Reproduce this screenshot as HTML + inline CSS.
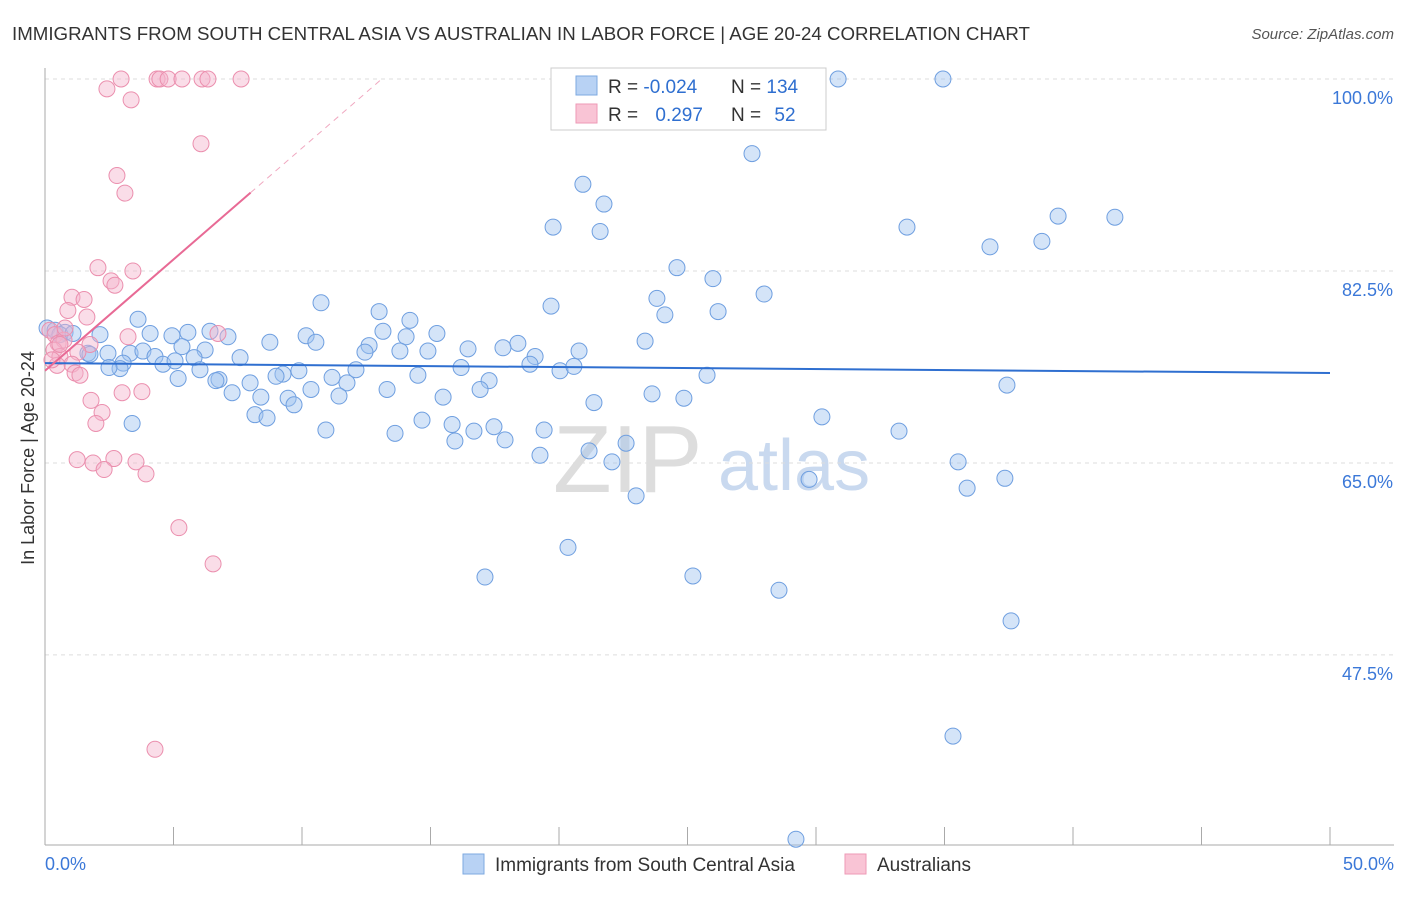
<!DOCTYPE html>
<html><head><meta charset="utf-8"><style>
body{margin:0;background:#fff;font-family:"Liberation Sans",sans-serif;}
svg text{font-family:"Liberation Sans",sans-serif;}
</style></head><body>
<svg id="chart" width="1406" height="892">
<text x="12" y="40" font-size="18" fill="#333" textLength="1018" lengthAdjust="spacingAndGlyphs">IMMIGRANTS FROM SOUTH CENTRAL ASIA VS AUSTRALIAN IN LABOR FORCE | AGE 20-24 CORRELATION CHART</text>
<text x="1394" y="39" font-size="15" fill="#555" text-anchor="end" font-style="italic">Source: ZipAtlas.com</text>
<text transform="translate(34,458) rotate(-90)" font-size="18" fill="#333" text-anchor="middle">In Labor Force | Age 20-24</text>
<g>
<text x="553" y="492" font-size="96" fill="#ddd" font-family="Liberation Serif">ZIP</text>
<text x="718" y="490" font-size="72" fill="#c9d9ef">atlas</text>
</g>
<g id="grid"></g><g id="axes"></g><g id="pts"></g><g id="trend"></g>
<g>
<rect x="551" y="68" width="275" height="62" fill="#fff" stroke="#ccc"/>
<rect x="576" y="76" width="21" height="19" fill="#b8d2f4" stroke="#7ea9e0"/>
<rect x="576" y="104" width="21" height="19" fill="#f9c4d5" stroke="#ee9ab6"/>
<text x="608" y="93" font-size="19" fill="#333">R = <tspan fill="#2f6fd0">-0.024</tspan></text>
<text x="731" y="93" font-size="19" fill="#333">N = <tspan fill="#2f6fd0">134</tspan></text>
<text x="608" y="121" font-size="19" fill="#333">R = <tspan fill="#2f6fd0" dx="12">0.297</tspan></text>
<text x="731" y="121" font-size="19" fill="#333">N = <tspan fill="#2f6fd0" dx="8">52</tspan></text>
</g>
<g>
<rect x="463" y="854" width="21" height="20" fill="#b8d2f4" stroke="#7ea9e0"/>
<text x="495" y="871" font-size="19" fill="#333">Immigrants from South Central Asia</text>
<rect x="845" y="854" width="21" height="20" fill="#f9c4d5" stroke="#ee9ab6"/>
<text x="877" y="871" font-size="19" fill="#333">Australians</text>
</g>
</svg>
<script>
const xTicksLabels=["0.0%","50.0%"];
const yTickVals=[100,82.5,65,47.5];
const blueX=[30.86,34.94,27.51,20.93,21.75,19.77,21.6,33.54,39.42,41.63,38.79,36.77,24.59,25.99,27.98,23.81,19.69,24.12,26.19,10.74,13.0,14.2,3.62,23.35,0.08,0.39,0.78,2.14,4.09,4.94,5.56,6.42,7.12,8.75,10.16,10.54,13.15,15.25,18.4,12.61,12.45,14.05,14.9,13.81,16.46,17.82,19.07,20.78,1.67,2.45,3.31,3.81,5.33,6.23,5.8,7.59,4.28,4.59,3.04,2.92,2.49,6.03,6.77,7.98,9.26,8.99,9.88,11.17,11.75,12.1,13.31,14.51,16.19,17.28,16.93,18.87,20.04,20.58,25.76,37.43,5.18,6.65,7.28,8.4,9.46,10.35,9.69,11.44,15.49,21.36,23.62,24.86,8.17,8.64,14.67,10.93,13.62,15.84,17.47,15.95,16.69,17.9,19.42,3.39,30.23,33.23,22.61,21.17,19.26,22.06,29.73,35.53,37.35,35.88,23.0,20.35,17.12,25.21,28.56,37.59,35.33,29.22,5.06,1.75,0.58,1.09];
const blueY=[100,100,93.2,90.4,88.6,86.5,86.1,86.5,87.5,87.4,85.2,84.7,82.8,81.8,80.4,80.0,79.3,78.5,78.8,79.6,78.8,78.0,78.1,76.1,77.3,77.1,76.9,76.7,76.8,76.6,76.9,77.0,76.5,76.0,76.6,76.0,77.0,76.8,75.9,75.7,75.1,76.5,75.2,75.2,75.4,75.5,74.7,75.2,75.0,75.0,75.0,75.2,75.6,75.3,74.6,74.6,74.7,74.0,74.1,73.6,73.7,73.5,72.6,72.3,73.1,72.9,73.4,72.8,72.3,73.5,71.7,73.0,73.7,72.5,71.7,74.0,73.4,73.8,73.0,72.1,72.7,72.5,71.4,71.0,70.9,71.7,70.3,71.1,71.0,70.5,71.3,70.9,69.4,69.1,68.9,68.0,67.7,68.5,68.3,67.0,67.9,67.1,68.0,68.6,69.2,67.9,66.8,66.1,65.7,65.1,63.5,65.1,63.6,62.7,62.0,57.3,54.6,54.7,53.4,50.6,40.1,30.7,74.3,74.9,76.7,76.8];
const pinkX=[2.96,4.36,4.47,4.79,5.33,6.11,6.34,7.63,2.41,3.35,6.07,2.8,3.11,2.06,3.42,2.57,2.72,1.05,1.52,0.89,1.63,0.19,0.39,0.51,0.74,1.75,0.35,3.23,6.73,1.28,0.58,1.05,0.47,1.17,1.36,1.79,3.77,3.0,2.22,1.98,1.25,1.87,2.68,3.54,2.3,3.93,5.21,6.54,4.28,0.58,0.78,0.27];
const pinkY=[100,100,100,100,100,100,100,100,99.1,98.1,94.1,91.2,89.6,82.8,82.5,81.6,81.2,80.1,79.9,78.9,78.3,77.1,76.7,75.9,76.2,75.8,75.3,76.5,76.8,75.1,74.7,74.0,73.9,73.2,73.0,70.7,71.5,71.4,69.6,68.6,65.3,65.0,65.4,65.1,64.4,64.0,59.1,55.8,38.9,75.8,77.3,74.4];
const blueTrend=[74.1,73.2];
const pinkTrend=[73.4,2.03];
const X=v=>45+v*25.7, Y=v=>79+(100-v)*10.97;
const NS="http://www.w3.org/2000/svg";
function mk(t,a,p){const e=document.createElementNS(NS,t);for(const k in a)e.setAttribute(k,a[k]);p.appendChild(e);return e;}
const grid=document.getElementById('grid'),axes=document.getElementById('axes');
yTickVals.forEach((v,i)=>{
 const l=mk('line',{x1:45,x2:1394,y1:Y(v),y2:Y(v),stroke:'#ddd','stroke-dasharray':'4,4'},grid);
 
 
 const t=mk('text',{x:1393,y:Y(v)+25,'font-size':18,fill:'#3b78d8','text-anchor':'end'},axes);
 t.textContent=v.toFixed(1)+'%';
 
 
});
mk('line',{x1:45,x2:45,y1:68,y2:845,stroke:'#aaa'},axes);
mk('line',{x1:45,x2:1394,y1:845,y2:845,stroke:'#aaa'},axes);
for(let i=0;i<=10;i++){mk('line',{x1:X(i*5),x2:X(i*5),y1:827,y2:845,stroke:'#aaa'},axes);}
const tl=mk('text',{x:45,y:870,'font-size':18,fill:'#3b78d8'},axes);tl.textContent=xTicksLabels[0];


const tr=mk('text',{x:1394,y:870,'font-size':18,fill:'#3b78d8','text-anchor':'end'},axes);tr.textContent=xTicksLabels[1];


const pts=document.getElementById('pts');
blueX.forEach((x,i)=>{const c=mk('circle',{cx:X(x),cy:Y(blueY[i]),r:8,fill:'rgba(160,195,240,0.45)',stroke:'#6f9fe0','stroke-width':1},pts);
 
 });
pinkX.forEach((x,i)=>{const c=mk('circle',{cx:X(x),cy:Y(pinkY[i]),r:8,fill:'rgba(245,180,205,0.45)',stroke:'#eb8fae','stroke-width':1},pts);
 
 });
const trd=document.getElementById('trend');
const bl=mk('line',{x1:X(0),y1:Y(blueTrend[0]),x2:X(50),y2:Y(blueTrend[1]),stroke:'#2f6fd0','stroke-width':2},trd);


const pe=v=>pinkTrend[0]+pinkTrend[1]*v;
const pl=mk('line',{x1:X(0),y1:Y(pe(0)),x2:X(8),y2:Y(pe(8)),stroke:'#e86a95','stroke-width':2},trd);


const pd=mk('line',{x1:X(8),y1:Y(pe(8)),x2:X(13.1),y2:Y(pe(13.1)),stroke:'#f0a8c0','stroke-width':1,'stroke-dasharray':'6,5'},trd);


</script>
</body></html>
